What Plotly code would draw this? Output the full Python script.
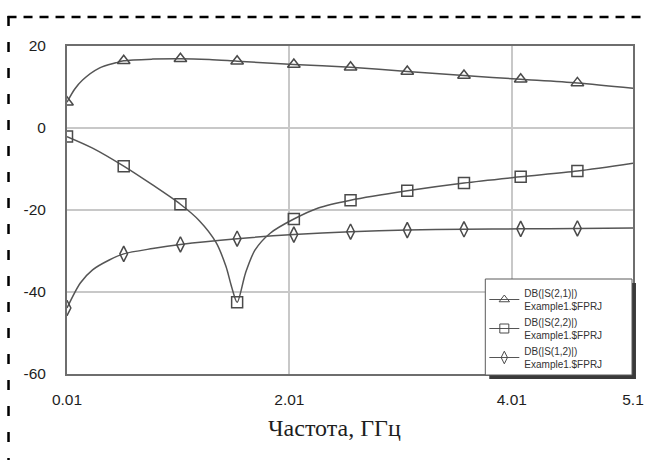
import plotly.graph_objects as go

# ---- data ----
S21_F = [0.01, 0.08, 0.15, 0.30, 0.45, 0.52, 0.78, 1.03, 1.29, 1.54, 2.05, 2.56, 3.07, 3.58, 4.09, 4.60, 5.10]
S21_V = [6.3, 9.5, 11.7, 14.6, 15.9, 16.4, 16.8, 16.9, 16.7, 16.3, 15.5, 14.8, 13.8, 12.8, 11.9, 11.0, 9.7]

S22_F = [0.01, 0.24, 0.52, 0.78, 1.03, 1.20, 1.35, 1.44, 1.49, 1.54, 1.615, 1.70, 1.84, 2.05, 2.27, 2.56, 3.07, 3.58, 4.09, 4.60, 5.10]
S22_V = [-2.1, -4.9, -9.3, -13.9, -18.6, -22.6, -27.9, -33.8, -38.7, -42.5, -35.4, -29.8, -25.6, -22.2, -19.5, -17.6, -15.3, -13.4, -11.9, -10.5, -8.6]

S12_F = [0.01, 0.13, 0.24, 0.39, 0.52, 0.78, 1.03, 1.54, 2.05, 2.56, 3.07, 3.58, 4.09, 4.60, 5.10]
S12_V = [-43.9, -37.8, -34.6, -32.2, -30.7, -29.4, -28.4, -27.0, -26.0, -25.3, -24.9, -24.7, -24.6, -24.5, -24.4]

MARK_F = [0.01, 0.52, 1.03, 1.54, 2.05, 2.56, 3.07, 3.58, 4.09, 4.60]

X_TICKS = [0.01, 2.01, 4.01, 5.1]
X_TICK_TEXT = ["0.01", "2.01", "4.01", "5.1"]
Y_TICKS = [20, 0, -20, -40, -60]
Y_TICK_TEXT = ["20", "0", "-20", "-40", "-60"]

NAMES = ["DB(|S(2,1)|)<br>Example1.$FPRJ",
         "DB(|S(2,2)|)<br>Example1.$FPRJ",
         "DB(|S(1,2)|)<br>Example1.$FPRJ"]
SYMBOLS = ["triangle-up-open", "square-open", "diamond-tall-open"]
SIZES = [11, 11, 11]
X_TITLE = "Частота, ГГц"

LINE_C = "#555555"
MARK_C = "#4a4a4a"

series = [(S21_F, S21_V), (S22_F, S22_V), (S12_F, S12_V)]

fig = go.Figure()
for (f, v), name, sym, sz in zip(series, NAMES, SYMBOLS, SIZES):
    fig.add_trace(go.Scatter(x=f, y=v, mode="lines", line=dict(color=LINE_C, width=1.5, shape="spline", smoothing=0.8),
                             showlegend=False, hoverinfo="skip"))
    lookup = dict(zip(f, v))
    mf = [m for m in MARK_F if m in lookup]
    fig.add_trace(go.Scatter(x=mf, y=[lookup[m] for m in mf], mode="markers",
                             marker=dict(symbol=sym, size=sz, color=MARK_C, line=dict(width=1.5, color=MARK_C)),
                             showlegend=False))
    fig.add_trace(go.Scatter(x=[None], y=[None], mode="lines+markers", name=name,
                             line=dict(color=LINE_C, width=1),
                             marker=dict(symbol=sym, size=9, color=MARK_C, line=dict(width=1, color=MARK_C))))

W, H = 656, 460
L, R, T, B = 67, 18, 46, 86
pw, ph = W - L - R, H - T - B

def px(x):
    return (x - L) / pw

def py(y):
    return (H - B - y) / ph

shapes = [
    # dashed outer frame (top and left edges)
    dict(type="line", xref="paper", yref="paper", x0=px(7), x1=px(646), y0=py(17), y1=py(17),
         line=dict(color="black", width=2.5, dash="9px,7px"), layer="above"),
    dict(type="line", xref="paper", yref="paper", x0=px(8), x1=px(8), y0=py(16), y1=py(470),
         line=dict(color="black", width=2.5, dash="10px,16px"), layer="above"),
    # legend shadow
    dict(type="rect", xref="paper", yref="paper", x0=px(493), x1=px(641), y0=py(379), y1=py(283),
         fillcolor="#3a3a3a", line=dict(width=0), layer="above"),
    # legend box
    dict(type="rect", xref="paper", yref="paper", x0=px(489), x1=px(637), y0=py(375), y1=py(279),
         fillcolor="white", line=dict(width=1, color="#5a5a5a"), layer="above"),
]

fig.update_layout(
    width=W, height=H,
    margin=dict(l=L, r=R, t=T, b=B, pad=0),
    paper_bgcolor="white", plot_bgcolor="white",
    font=dict(family="Liberation Sans, Arial, sans-serif", color="#1e1e1e"),
    shapes=shapes,
    legend=dict(x=px(488), y=py(280), xanchor="left", yanchor="top", bgcolor="rgba(0,0,0,0)",
                borderwidth=0,
                font=dict(size=10, color="#333333", family="Liberation Sans, Arial, sans-serif"),
                tracegroupgap=0),
    xaxis=dict(range=[0.01, 5.1], tickvals=X_TICKS, ticktext=X_TICK_TEXT, showgrid=True,
               gridcolor="#c8c8c8", gridwidth=1.5, zeroline=False, showline=True, linecolor="#6e6e6e",
               linewidth=2, mirror=True, ticks="outside", ticklen=10, tickcolor="rgba(0,0,0,0)",
               tickfont=dict(size=15.5)),
    yaxis=dict(range=[-60, 20], tickvals=Y_TICKS, ticktext=Y_TICK_TEXT, showgrid=True,
               gridcolor="#c8c8c8", gridwidth=1.5, zeroline=False, showline=True, linecolor="#6e6e6e",
               linewidth=2, mirror=True, ticks="outside", ticklen=16, tickcolor="rgba(0,0,0,0)",
               tickfont=dict(size=15.5)),
    annotations=[dict(text=X_TITLE, xref="paper", yref="paper", x=px(337), y=py(428),
                      xanchor="center", yanchor="middle", showarrow=False,
                      font=dict(family="Liberation Serif, Times New Roman, serif", size=24, color="#1e1e1e"))],
)

fig.write_html("out.html")
